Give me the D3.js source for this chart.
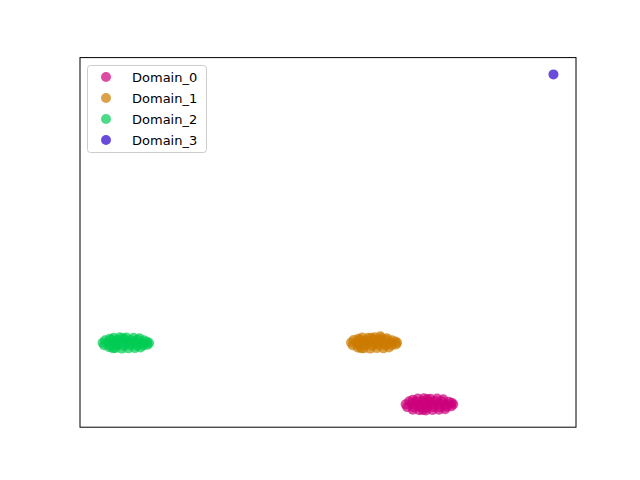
<!DOCTYPE html>
<html>
<head>
<meta charset="utf-8">
<script src="https://cdn.jsdelivr.net/npm/d3@7"></script>
<style>
  html, body { margin: 0; padding: 0; background: #fff; }
  svg { display: block; }
  text { font-family: "DejaVu Sans", sans-serif; }
</style>
</head>
<body>
<div id="chart"></div>
<script>
const domains = ["Domain_0", "Domain_1", "Domain_2", "Domain_3"];
const colors = ["rgb(204,0,122)", "rgb(204,122,0)", "rgb(0,204,82)", "rgb(41,0,204)"];

const domain0 = [
  [22.9,-3.25],[24.1,-3.2],[25.4,-3.3],[26.7,-3.25],[27.9,-3.4],[21.9,-3.5],[24.8,-3.35],
  [21.2,-3.8],[22.5,-3.85],[23.8,-3.75],[25.1,-3.9],[26.4,-3.8],[27.7,-3.85],[29.0,-3.9],[29.6,-4.1],
  [20.5,-4.4],[21.8,-4.35],[23.1,-4.5],[24.4,-4.4],[25.7,-4.45],[27.0,-4.35],[28.3,-4.5],[29.9,-4.4],
  [20.8,-4.95],[22.1,-5.0],[23.4,-4.9],[24.7,-5.05],[26.0,-4.95],[27.3,-5.0],[28.6,-4.9],[29.5,-4.8],
  [21.9,-5.45],[23.2,-5.55],[24.5,-5.6],[25.8,-5.5],[27.1,-5.45],[28.3,-5.35],[23.9,-5.5]
];
const domain1 = [
  [11.9,8.85],[13.1,8.8],[14.4,8.9],[15.7,8.75],[16.8,8.7],[13.7,8.8],[11.1,8.6],[15.5,9.1],
  [10.2,8.35],[11.5,8.4],[12.8,8.3],[14.1,8.45],[15.3,8.35],[16.6,8.4],[17.8,8.3],[18.5,8.05],
  [9.7,7.85],[10.9,7.75],[12.2,7.9],[13.5,7.8],[14.8,7.7],[16.1,7.85],[17.4,7.75],[18.8,7.8],
  [10.0,7.3],[11.3,7.25],[12.6,7.35],[13.9,7.2],[15.2,7.3],[16.5,7.25],[17.8,7.3],[18.6,7.45],
  [11.0,6.85],[12.2,6.7],[13.5,6.65],[14.8,6.75],[16.1,6.7],[17.2,6.85],[11.7,6.7]
];
const domain2 = [
  [-37.2,8.8],[-36.0,8.9],[-34.7,8.85],[-33.3,8.8],[-32.1,8.7],[-35.4,8.75],[-38.0,8.6],
  [-38.9,8.3],[-37.6,8.4],[-36.3,8.35],[-35.0,8.45],[-33.8,8.3],[-32.5,8.4],[-31.2,8.3],[-30.6,8.0],
  [-39.4,7.8],[-38.2,7.9],[-36.9,7.7],[-35.6,7.85],[-34.3,7.75],[-33.0,7.9],[-31.7,7.7],[-30.2,7.75],
  [-39.1,7.3],[-37.8,7.2],[-36.5,7.35],[-35.2,7.15],[-33.9,7.3],[-32.6,7.2],[-31.3,7.25],[-30.5,7.4],
  [-38.1,6.9],[-36.9,6.75],[-35.6,6.65],[-34.3,6.7],[-33.0,6.75],[-31.9,6.85],[-37.3,6.7]
];
const domain3 = [
  [49.7,61.0]
];
const series = [domain0, domain1, domain2, domain3];

const W = 640, H = 480;
const plotLeft = 80, plotRight = 576, plotTop = 57.6, plotBottom = 427.2;

const svg = d3.select("#chart").append("svg").attr("width", W).attr("height", H);

const all = series.flat();
const xe = d3.extent(all, d => d[0]);
const ye = d3.extent(all, d => d[1]);
const xp = (xe[1] - xe[0]) * 0.05, yp = (ye[1] - ye[0]) * 0.05;
const x = d3.scaleLinear().domain([xe[0] - xp, xe[1] + xp]).range([plotLeft, plotRight]);
const y = d3.scaleLinear().domain([ye[0] - yp, ye[1] + yp]).range([plotBottom, plotTop]);

const g = svg.append("g");
series.forEach((pts, i) => {
  g.append("g").selectAll("circle").data(pts).join("circle")
    .attr("cx", d => x(d[0]))
    .attr("cy", d => y(d[1]))
    .attr("r", 5)
    .attr("fill", colors[i])
    .attr("fill-opacity", 0.7);
});

// frame
svg.append("rect")
  .attr("x", plotLeft).attr("y", plotTop)
  .attr("width", plotRight - plotLeft).attr("height", plotBottom - plotTop)
  .attr("fill", "none").attr("stroke", "#000").attr("stroke-width", 1);

// legend
const lg = svg.append("g");
lg.append("rect")
  .attr("x", 87.5).attr("y", 65.5).attr("width", 119).attr("height", 87)
  .attr("rx", 3).attr("ry", 3)
  .attr("fill", "#fff").attr("fill-opacity", 0.8)
  .attr("stroke", "#cccccc").attr("stroke-width", 1);
domains.forEach((name, i) => {
  const cy = 77 + i * 21;
  lg.append("circle").attr("cx", 106).attr("cy", cy).attr("r", 5)
    .attr("fill", colors[i]).attr("fill-opacity", 0.7);
  lg.append("text").attr("x", 132).attr("y", cy + 4.5)
    .attr("font-size", "13px").attr("fill", "#000").text(name);
});
</script>
</body>
</html>
